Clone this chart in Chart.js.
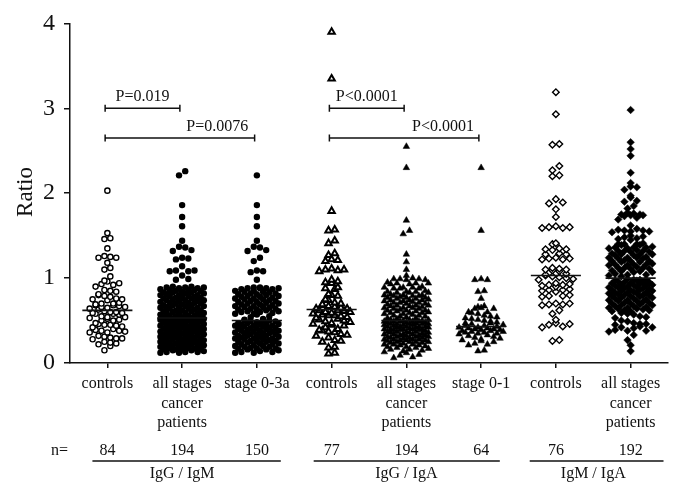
<!DOCTYPE html>
<html><head><meta charset="utf-8">
<script src="https://cdn.jsdelivr.net/npm/chart.js@4.4.1/dist/chart.umd.min.js"></script>
<style>html,body{margin:0;padding:0;background:#fff}#wrap{width:684px;height:499px}</style>
</head><body><div id="wrap"><canvas id="c" width="684" height="499"></canvas></div>
<script>
// ---------- data ----------
const categories = [["controls"],["all stages","cancer","patients"],["stage 0-3a"],["controls"],["all stages","cancer","patients"],["stage 0-1"],["controls"],["all stages","cancer","patients"]];
const nCounts = [84,194,150,77,194,64,76,192];
const groupLabels = ["IgG / IgM","IgG / IgA","IgM / IgA"];
const yTicks = [0,1,2,3,4];
const medians = [0.62,0.53,0.50,0.63,0.50,0.43,1.03,1.00];
const pLabels = ["P=0.019","P=0.0076","P<0.0001","P<0.0001"];
const bracketFrom = [0,0,3,3];
const bracketTo = [1,2,4,5];
const bracketY = [3.0,2.65,3.0,2.65];

const igGIgM_controls = [2.03,1.53,1.47,1.46,1.35,1.26,1.25,1.24,1.24,1.18,1.12,1.10,1.02,
0.97,0.96,0.94,0.93,0.92,0.90,0.86,0.85,0.84,0.81,0.80,0.79,0.78,0.76,0.75,0.74,0.75,
0.71,0.70,0.70,0.69,0.68,0.68,0.67,0.66,0.66,0.65,0.64,0.63,
0.61,0.60,0.60,0.59,0.59,0.58,0.58,0.57,0.55,0.54,0.54,0.53,0.52,0.51,0.50,0.50,
0.47,0.46,0.45,0.45,0.44,0.43,0.42,0.40,0.39,0.38,0.38,0.37,0.36,0.36,
0.32,0.31,0.30,0.29,0.29,0.28,0.25,0.24,0.23,0.22,0.20,0.15];
const igGIgM_all = [2.26,2.21,1.86,1.72,1.61,1.44,1.37,1.36,1.33,1.32,1.24,1.23,1.22,1.14,1.09,1.09,1.08,1.08,1.03,0.99,0.98,
0.89,0.90,0.88,0.89,0.90,0.88,0.89,0.86,0.85,0.87,0.86,0.85,0.86,0.83,0.82,0.84,0.83,0.82,0.83,
0.80,0.79,0.81,0.80,0.79,0.80,0.77,0.76,0.78,0.77,0.76,0.77,0.74,0.73,0.75,0.74,0.73,0.74,
0.71,0.70,0.72,0.71,0.70,0.71,0.68,0.67,0.69,0.68,0.67,0.68,0.65,0.64,0.66,0.65,0.64,0.65,
0.62,0.61,0.63,0.62,0.61,0.62,0.59,0.58,0.60,0.59,0.58,0.59,0.56,0.55,0.57,0.56,0.55,0.56,0.54,0.53,0.54,
0.52,0.51,0.52,0.52,0.51,0.52,0.51,0.49,0.48,0.50,0.49,0.48,0.49,0.49,0.46,0.45,0.47,0.46,0.45,0.46,0.46,
0.43,0.42,0.44,0.43,0.42,0.43,0.43,0.40,0.39,0.41,0.40,0.39,0.40,0.40,0.37,0.36,0.38,0.37,0.36,0.37,0.37,
0.34,0.33,0.35,0.34,0.33,0.34,0.34,0.31,0.30,0.32,0.31,0.30,0.31,0.31,0.28,0.27,0.29,0.28,0.27,0.28,0.28,
0.25,0.24,0.26,0.25,0.24,0.25,0.25,0.22,0.21,0.23,0.22,0.21,0.22,0.22,0.19,0.18,0.20,0.19,0.18,0.19,0.19,
0.16,0.15,0.17,0.16,0.15,0.16,0.16,0.13,0.12,0.14,0.13,0.12,0.13];
const igGIgM_stage = [2.21,1.86,1.72,1.61,1.44,1.37,1.36,1.33,1.32,1.24,1.20,1.09,1.08,1.07,0.98,
0.88,0.88,0.87,0.89,0.88,0.87,0.88,0.89,0.85,0.84,0.85,0.84,0.82,0.81,0.82,0.83,0.81,
0.79,0.78,0.79,0.80,0.78,0.76,0.75,0.76,0.77,0.75,0.73,0.72,0.73,0.74,0.72,0.70,0.69,0.70,0.71,0.69,
0.67,0.66,0.67,0.68,0.66,0.64,0.63,0.64,0.65,0.63,0.61,0.60,0.61,0.62,0.60,0.58,0.57,0.58,0.59,0.55,0.54,0.52,0.51,
0.50,0.49,0.50,0.49,0.50,0.48,0.47,0.46,0.47,0.46,0.47,0.45,0.44,0.43,0.44,0.43,0.44,0.42,
0.41,0.40,0.41,0.40,0.41,0.39,0.38,0.37,0.38,0.37,0.38,0.36,0.35,0.34,0.35,0.34,0.35,0.33,
0.32,0.31,0.32,0.31,0.32,0.30,0.29,0.28,0.29,0.28,0.29,0.27,0.26,0.25,0.26,0.25,0.26,0.24,
0.23,0.22,0.23,0.22,0.21,0.20,0.19,0.20,0.19,0.18,0.17,0.16,0.17,0.16,0.17,0.15,0.13,0.12,0.13,0.14,0.12];
const igGIgA_controls = [3.90,3.35,1.79,1.57,1.56,1.44,1.41,1.29,1.27,1.22,1.21,1.20,
1.11,1.10,1.10,1.09,1.08,0.98,0.96,0.95,0.94,0.89,0.88,0.87,
0.81,0.80,0.79,0.75,0.74,0.71,0.70,0.69,0.68,0.67,0.66,0.65,0.64,0.64,
0.62,0.62,0.61,0.60,0.60,0.59,0.58,0.57,0.56,0.56,0.55,0.54,0.53,
0.52,0.51,0.50,0.49,0.48,0.47,0.46,0.45,0.44,0.42,0.40,0.39,0.38,
0.37,0.36,0.34,0.33,0.32,0.30,0.27,0.26,0.25,0.19,0.18,0.12,0.11];
const igGIgA_all = [2.55,2.30,1.68,1.56,1.52,1.28,1.19,1.10,1.03,
0.99,0.98,0.99,1.00,0.98,0.99,0.94,0.93,0.94,0.95,0.93,0.94,0.89,0.88,0.89,0.90,0.88,0.89,0.88,
0.84,0.83,0.84,0.85,0.83,0.84,0.83,0.80,0.79,0.80,0.81,0.79,0.80,0.79,0.77,0.76,0.77,0.78,0.76,0.77,
0.74,0.73,0.74,0.75,0.73,0.74,0.71,0.70,0.71,0.72,0.70,0.71,0.68,0.67,0.68,0.69,0.67,0.68,
0.65,0.64,0.65,0.66,0.64,0.65,0.62,0.61,0.62,0.63,0.61,0.62,0.59,0.58,0.59,0.60,0.58,0.59,
0.56,0.55,0.56,0.57,0.55,0.53,0.52,0.53,0.54,0.51,0.51,0.50,0.51,
0.49,0.48,0.49,0.50,0.48,0.49,0.49,0.48,0.49,0.46,0.45,0.46,0.47,0.45,0.46,0.46,0.45,0.46,
0.43,0.42,0.43,0.44,0.42,0.43,0.43,0.42,0.43,0.40,0.39,0.40,0.41,0.39,0.40,0.40,0.39,0.40,
0.37,0.36,0.37,0.38,0.36,0.37,0.37,0.36,0.34,0.33,0.34,0.35,0.33,0.34,0.34,0.33,
0.31,0.30,0.31,0.32,0.30,0.31,0.31,0.30,0.28,0.27,0.28,0.29,0.27,0.28,0.28,0.27,
0.25,0.24,0.25,0.26,0.24,0.25,0.25,0.22,0.21,0.22,0.23,0.21,0.22,0.19,0.18,0.19,0.20,0.18,
0.16,0.15,0.16,0.17,0.13,0.12,0.14,0.09,0.10,0.06,0.07];
const igGIgA_stage = [2.30,1.56,0.99,0.98,0.98,0.85,0.84,0.76,0.67,0.66,0.65,0.64,0.64,0.60,0.60,0.59,
0.58,0.56,0.55,0.54,0.53,0.52,0.51,0.50,0.49,0.48,0.47,0.47,0.46,0.45,0.44,0.44,
0.43,0.42,0.42,0.41,0.41,0.40,0.40,0.39,0.39,0.38,0.38,0.37,0.37,0.36,0.36,0.35,
0.35,0.34,0.33,0.32,0.31,0.30,0.29,0.28,0.27,0.26,0.25,0.23,0.22,0.21,0.15,0.14];
const igMIgA_controls = [3.19,2.93,2.58,2.57,2.32,2.27,2.21,2.20,1.93,1.89,1.88,1.81,1.72,1.61,1.60,1.60,1.59,1.59,
1.41,1.40,1.35,1.34,1.34,1.33,1.29,1.28,1.28,1.24,1.23,1.23,1.22,1.22,
1.12,1.11,1.10,1.10,1.09,1.08,1.05,1.04,1.03,1.02,1.01,1.00,0.99,0.98,
0.94,0.93,0.92,0.91,0.90,0.92,0.87,0.86,0.85,0.84,0.86,0.80,0.79,0.78,0.79,
0.70,0.70,0.69,0.69,0.68,0.62,0.58,0.51,0.47,0.46,0.45,0.43,0.42,0.27,0.26];
const igMIgA_all = [2.98,2.60,2.52,2.44,2.24,2.12,2.08,2.07,2.04,1.97,1.95,1.91,1.90,1.85,1.82,
1.77,1.76,1.75,1.75,1.74,1.74,1.73,1.71,1.69,1.62,1.58,1.57,1.56,1.56,1.55,1.55,1.54,
1.50,1.49,1.48,1.47,1.46,1.45,1.40,1.39,1.41,1.40,1.39,1.40,1.36,1.35,1.37,1.36,1.35,1.36,
1.32,1.31,1.33,1.32,1.31,1.32,1.28,1.27,1.29,1.28,1.27,1.28,1.24,1.23,1.25,1.24,1.23,1.24,
1.20,1.19,1.21,1.20,1.19,1.20,1.16,1.15,1.17,1.16,1.15,1.16,1.12,1.11,1.13,1.12,1.11,1.12,
1.08,1.07,1.09,1.08,1.07,1.04,1.03,1.05,1.04,1.02,
0.98,0.97,0.99,0.98,0.97,0.98,0.95,0.94,0.96,0.95,0.94,0.95,0.92,0.91,0.93,0.92,0.91,0.92,
0.89,0.88,0.90,0.89,0.88,0.89,0.86,0.85,0.87,0.86,0.85,0.86,0.83,0.82,0.84,0.83,0.82,0.83,
0.80,0.79,0.81,0.80,0.79,0.80,0.77,0.76,0.78,0.77,0.76,0.74,0.73,0.75,0.74,0.73,
0.71,0.70,0.72,0.71,0.70,0.68,0.67,0.69,0.68,0.67,0.65,0.64,0.66,0.65,0.64,0.62,0.61,0.63,0.62,0.61,
0.58,0.57,0.59,0.54,0.53,0.55,0.50,0.49,0.46,0.45,0.47,0.46,0.42,0.41,0.43,0.42,0.38,0.37,0.39,0.38,
0.33,0.27,0.21,0.14];

const groups = [igGIgM_controls,igGIgM_all,igGIgM_stage,igGIgA_controls,igGIgA_all,igGIgA_stage,igMIgA_controls,igMIgA_all];

// ---------- marker styles and row layout parameters ----------
const markerStyles = [
  {style:'circle',   r:2.6, fill:'#fff', bw:1.4, sx:5.9, M:7},
  {style:'circle',   r:3.2, fill:'#000', bw:0,   sx:6.2, M:8},
  {style:'circle',   r:3.2, fill:'#000', bw:0,   sx:6.2, M:8},
  {style:'triangle', r:3.7, fill:'#fff', bw:2.0, sx:6.2, M:7},
  {style:'triangle', r:3.8, fill:'#000', bw:0.5, sx:6.3, M:8},
  {style:'triangle', r:3.8, fill:'#000', bw:0.5, sx:6.3, M:8},
  {style:'rectRot',  r:3.3, fill:'#fff', bw:1.4, sx:6.9, M:7},
  {style:'rectRot',  r:3.8, fill:'#000', bw:0.5, sx:6.2, M:8}
];
const PXX = 74.75; // px per category unit (fixed layout below)
const ROW_SPAN = 0.06; // value span that may share one row

function perm(n) {
  const steps = [3, 5, 7, 2, 1];
  const st = steps.find(s => s < n && gcd(s, n) === 1) || 1;
  return Array.from({length: n}, (_, k) => (k * st) % n);
}
function gcd(a, b) { return b ? gcd(b, a % b) : a; }
function rowLayout(vals, sx, M) {
  const s = [...vals].sort((a, b) => a - b);
  const out = [];
  let row = [], full = 0;
  const flush = () => {
    const n = row.length, p = perm(n);
    row.forEach((v, k) => out.push({v, x: (p[k] - (n - 1) / 2) * sx}));
    row = [];
  };
  for (const v of s) {
    const cap = full % 2 === 0 ? M : M - 1;
    if (row.length && (v - row[0] > ROW_SPAN || row.length >= cap)) {
      if (row.length >= cap) full++;
      flush();
    }
    row.push(v);
  }
  flush();
  return out;
}

const datasets = [];
groups.forEach((vals, i) => {
  const st = markerStyles[i];
  const pl = rowLayout(vals, st.sx, st.M);
  datasets.push({
    type: 'scatter', order: 2,
    data: pl.map(p => ({x: i + p.x / PXX, y: p.v})),
    pointStyle: st.style, pointRadius: st.r, pointHoverRadius: st.r,
    pointBackgroundColor: st.fill, pointBorderColor: '#000', pointBorderWidth: st.bw
  });
});
medians.forEach((m, i) => {
  datasets.push({type: 'scatter', order: 0, showLine: true, pointRadius: 0, borderColor: '#111', borderWidth: 1.6,
    data: [{x: i - 0.335, y: m}, {x: i + 0.335, y: m}]});
});
const capH = 0.042, bShift = -0.03;
bracketY.forEach((by, k) => {
  const a = bracketFrom[k] + bShift, b = bracketTo[k] + bShift;
  datasets.push({type: 'scatter', order: 0, showLine: true, pointRadius: 0, borderColor: '#111', borderWidth: 1.5,
    data: [{x: a, y: by + capH}, {x: a, y: by - capH}, {x: a, y: by}, {x: b, y: by}, {x: b, y: by + capH}, {x: b, y: by - capH}]});
});

const SERIF = '"Liberation Serif", "Times New Roman", serif';
const textPlugin = {
  id: 'texts',
  afterDraw(chart) {
    const {ctx, chartArea} = chart;
    const x = chart.scales.x, y = chart.scales.y;
    const bot = chartArea.bottom;
    ctx.save();
    ctx.fillStyle = '#111';
    ctx.strokeStyle = '#111';
    ctx.font = '16px ' + SERIF;
    ctx.textAlign = 'center';
    ctx.textBaseline = 'alphabetic';
    categories.forEach((lines, i) => {
      const px = x.getPixelForValue(i);
      lines.forEach((t, k) => ctx.fillText(t, px, bot + 25 + k * 19.5));
      ctx.fillText(String(nCounts[i]), px, bot + 92);
    });
    ctx.textAlign = 'right';
    ctx.fillText('n=', 68, bot + 92);
    ctx.textAlign = 'center';
    const spans = [[-0.2, 2.32, 1], [2.76, 5.25, 4], [5.65, 7.44, 6.5]];
    ctx.lineWidth = 1.5;
    spans.forEach((s, g) => {
      const a = x.getPixelForValue(s[0]), b = x.getPixelForValue(s[1]);
      ctx.beginPath(); ctx.moveTo(a, bot + 98); ctx.lineTo(b, bot + 98); ctx.stroke();
      ctx.fillText(groupLabels[g], x.getPixelForValue(s[2]), bot + 115);
    });
    const pX = [0.47, 1.47, 3.47, 4.49];
    pLabels.forEach((t, k) => ctx.fillText(t, x.getPixelForValue(pX[k]), y.getPixelForValue(bracketY[k]) - 7));
    ctx.save();
    ctx.translate(26, 192);
    ctx.rotate(-Math.PI / 2);
    ctx.font = '23px ' + SERIF;
    ctx.textBaseline = 'middle';
    ctx.fillText('Ratio', 0, 0);
    ctx.restore();
    ctx.restore();
  }
};

new Chart(document.getElementById('c'), {
  type: 'scatter',
  data: {datasets},
  plugins: [textPlugin],
  options: {
    responsive: false, animation: false, devicePixelRatio: 1, events: [],
    layout: {padding: {top: 22, right: 16, left: 0, bottom: 0}, autoPadding: false},
    plugins: {legend: {display: false}, tooltip: {enabled: false}},
    scales: {
      x: {
        type: 'linear', min: -0.5, max: 7.5,
        afterBuildTicks: s => { s.ticks = categories.map((c, i) => ({value: i})); },
        afterFit: s => { s.height = 136; },
        ticks: {display: false},
        grid: {display: true, drawOnChartArea: false, drawTicks: true, tickLength: 5, color: '#111', lineWidth: 1.5},
        border: {display: true, color: '#111', width: 1.5}
      },
      y: {
        type: 'linear', min: 0, max: 4,
        afterBuildTicks: s => { s.ticks = yTicks.map(v => ({value: v})); },
        afterFit: s => { s.width = 70; },
        ticks: {color: '#111', padding: 9, font: {family: SERIF, size: 24}},
        grid: {display: true, drawOnChartArea: false, drawTicks: true, tickLength: 6, color: '#111', lineWidth: 1.5},
        border: {display: true, color: '#111', width: 1.5}
      }
    }
  }
});
</script></body></html>
